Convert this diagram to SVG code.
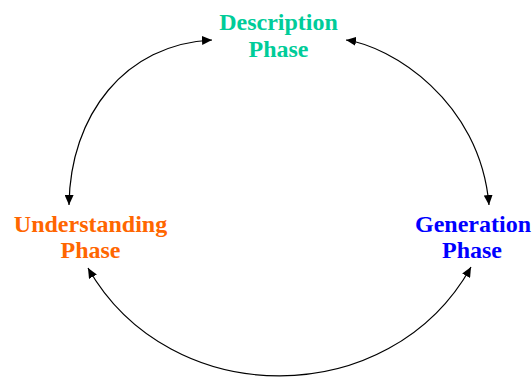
<svg xmlns="http://www.w3.org/2000/svg" width="532" height="377" viewBox="0 0 532 377">
<style>
.lbl{font-family:"Liberation Serif","Times New Roman",serif;font-weight:bold;font-size:24px;text-anchor:middle}
.arc{fill:none;stroke:#000;stroke-width:1.2;marker-start:url(#ah);marker-end:url(#ah)}
</style>
<defs>
<marker id="ah" markerUnits="userSpaceOnUse" markerWidth="10" markerHeight="9" refX="10" refY="4.5" orient="auto-start-reverse">
<path d="M0,0 L10,4.5 L0,9 z" fill="#000"/>
</marker>
</defs>
<rect width="532" height="377" fill="#fff"/>
<g id="connectors">
<path class="arc" d="M212 40 C125 44 70 115 69 205"/>
<path class="arc" d="M346 40 C390 46 480 100 489 205"/>
<path class="arc" d="M88 268 C170 412 390 412 471 267"/>
</g>
<g id="description">
<text class="lbl" fill="#00CC99" x="278.5" y="30">Description</text>
<text class="lbl" fill="#00CC99" x="278.5" y="57">Phase</text>
</g>
<g id="understanding">
<text class="lbl" fill="#FF6600" x="90.5" y="232">Understanding</text>
<text class="lbl" fill="#FF6600" x="90.5" y="258">Phase</text>
</g>
<g id="generation">
<text class="lbl" fill="#0000FF" x="473" y="232">Generation</text>
<text class="lbl" fill="#0000FF" x="472" y="258">Phase</text>
</g>
</svg>
